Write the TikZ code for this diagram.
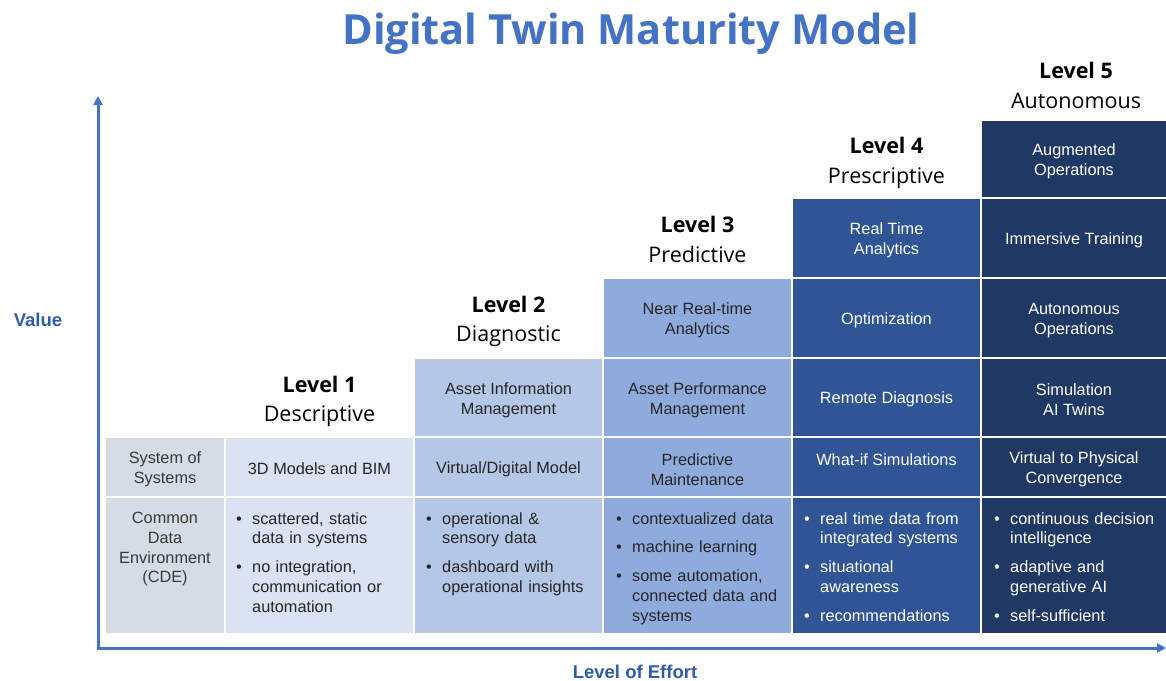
\documentclass[tikz,border=0pt]{standalone}
\usepackage{fontspec}
\setmainfont{Liberation Sans}
\newfontfamily\lvlfont{Open Sans}
\usetikzlibrary{arrows.meta}
\definecolor{axisblue}{HTML}{4472C4}
\definecolor{labelblue}{HTML}{2F5DAE}
\definecolor{cz}{HTML}{D6DCE5}
\definecolor{ca}{HTML}{DAE3F3}
\definecolor{cb}{HTML}{B4C7E7}
\definecolor{cc}{HTML}{8FAADC}
\definecolor{cd}{HTML}{2F5597}
\definecolor{ce}{HTML}{203864}
\definecolor{tdark}{HTML}{262626}
\definecolor{tgray}{HTML}{3A3A3A}
\newcommand{\itm}[1]{\noindent\hangindent=16pt\hangafter=1\makebox[16pt][l]{\textbullet}#1\par}
\begin{document}
\begin{tikzpicture}[x=1pt,y=-1pt,
  txt/.style={font=\fontsize{16.3}{19.8}\selectfont, align=center, inner sep=0pt},
  dk/.style={txt, text=tdark},
  wt/.style={txt, text=white},
  bul/.style={font=\fontsize{16.3}{19.8}\selectfont, inner sep=0pt, anchor=north west,
     text width=175pt, align=left, execute at begin node={\setlength{\parskip}{9pt}}},
  lvl/.style={font=\lvlfont\bfseries\fontsize{21.5}{26}\selectfont, anchor=base, inner sep=0pt},
  lvlname/.style={font=\lvlfont\fontsize{21.5}{26}\selectfont, anchor=base, inner sep=0pt},
  axis/.style={axisblue, line width=3pt, -{Triangle[length=9pt,width=9pt]}},
  axlabel/.style={font=\bfseries\fontsize{18.5}{22}\selectfont, text=labelblue, inner sep=0pt}
]
\useasboundingbox (0,0) rectangle (1166,680);
\fill[white] (0,0) rectangle (1166,680);

% title
\node[font=\lvlfont\bfseries\fontsize{41.5}{50}\selectfont, text=axisblue, inner sep=0pt, anchor=base] (title) at (631,44) {Digital Twin Maturity Model};

% column 0
\fill[cz] (106,438) rectangle (224,496);
\fill[cz] (106,498) rectangle (224,633);
% column 1
\fill[ca] (226,438) rectangle (413,496);
\fill[ca] (226,498) rectangle (413,633);
% column 2
\fill[cb] (415,359) rectangle (602,436);
\fill[cb] (415,438) rectangle (602,496);
\fill[cb] (415,498) rectangle (602,633);
% column 3
\fill[cc] (604,279) rectangle (791,357);
\fill[cc] (604,359) rectangle (791,436);
\fill[cc] (604,438) rectangle (791,496);
\fill[cc] (604,498) rectangle (791,633);
% column 4
\fill[cd] (793,199) rectangle (980,277);
\fill[cd] (793,279) rectangle (980,357);
\fill[cd] (793,359) rectangle (980,436);
\fill[cd] (793,438) rectangle (980,496);
\fill[cd] (793,498) rectangle (980,633);
% column 5
\fill[ce] (982,121) rectangle (1166,197);
\fill[ce] (982,199) rectangle (1166,277);
\fill[ce] (982,279) rectangle (1166,357);
\fill[ce] (982,359) rectangle (1166,436);
\fill[ce] (982,438) rectangle (1166,496);
\fill[ce] (982,498) rectangle (1166,633);

% axes
\coordinate (origin) at (98,648);
\coordinate (ytip) at (98,96);
\coordinate (xtip) at (1166,648);
\draw[axis] (98,649.5) -- (ytip);
\draw[axis] (96.5,648) -- (xtip);
\node[axlabel] (value) at (38,320) {Value};
\node[axlabel, anchor=base] (effort) at (635,678) {Level of Effort};

% level labels
\node[lvl] (l1) at (319.5,392) {Level 1};
\node[lvlname] (n1) at (319.5,421) {Descriptive};
\node[lvl] (l2) at (508.5,312) {Level 2};
\node[lvlname] (n2) at (508.5,341) {Diagnostic};
\node[lvl] (l3) at (697.5,232) {Level 3};
\node[lvlname] (n3) at (697.5,262) {Predictive};
\node[lvl] (l4) at (886.5,153) {Level 4};
\node[lvlname] (n4) at (886.5,183) {Prescriptive};
\node[lvl] (l5) at (1076,78) {Level 5};
\node[lvlname] (n5) at (1076,108) {Autonomous};

% column 0 text
\node[txt, text=tgray] (sos) at (165,469.5) {System of\\Systems};
\node[txt, text=tgray, anchor=north] (cde) at (165,512) {Common\\Data\\Environment\\(CDE)};

% column 1 text
\node[dk] (bim) at (319.5,469) {3D Models and BIM};
\node[bul, text=tdark] (b1) at (236,512) {\itm{scattered, static\newline data in systems}\itm{no integration,\newline communication or\newline automation}};

% column 2 text
\node[dk] (aim) at (508.5,400) {Asset Information\\Management};
\node[dk] (vdm) at (508.5,469) {Virtual/Digital Model};
\node[bul, text=tdark] (b2) at (426,512) {\itm{operational \&\newline sensory data}\itm{dashboard with\newline operational insights}};

% column 3 text
\node[dk] (nrt) at (697.5,320.5) {Near Real-time\\Analytics};
\node[dk] (apm) at (697.5,400) {Asset Performance\\Management};
\node[dk] (pm) at (697.5,469.5) {Predictive\\Maintenance};
\node[bul, text=tdark] (b3) at (616,512) {\itm{contextualized data}\itm{machine learning}\itm{some automation,\newline connected data and\newline systems}};

% column 4 text
\node[wt] (rta) at (886.5,240.5) {Real Time\\Analytics};
\node[wt] (opt) at (886.5,320) {Optimization};
\node[wt] (rd) at (886.5,399.5) {Remote Diagnosis};
\node[wt] (wis) at (886.5,460) {What-if Simulations};
\node[bul, text=white] (b4) at (804,512) {\itm{real time data from\newline integrated systems}\itm{situational\newline awareness}\itm{recommendations}};

% column 5 text
\node[wt] (ao) at (1074,161.5) {Augmented\\Operations};
\node[wt] (it) at (1074,240) {Immersive Training};
\node[wt] (auo) at (1074,320.5) {Autonomous\\Operations};
\node[wt] (sim) at (1074,400) {Simulation\\AI Twins};
\node[wt] (v2p) at (1074,469.5) {Virtual to Physical\\Convergence};
\node[bul, text=white] (b5) at (994,512) {\itm{continuous decision\newline intelligence}\itm{adaptive and\newline generative AI}\itm{self-sufficient}};
\end{tikzpicture}
\end{document}
